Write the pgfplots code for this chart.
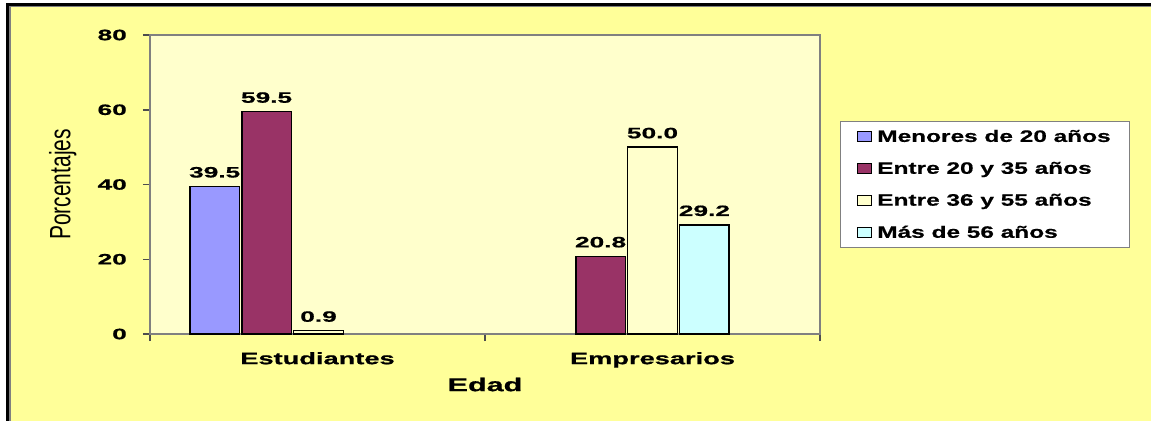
\documentclass[border=0pt]{standalone}
\usepackage{graphicx}
\usepackage{pgfplots}
\pgfplotsset{compat=1.18}
\usepackage{fontspec}
\setmainfont{Liberation Sans}
\newfontfamily\numf[FakeStretch=1.75,BoldFeatures={FakeBold=0.8}]{Liberation Sans}
\newfontfamily\txf[FakeStretch=1.65,BoldFeatures={FakeBold=0.8}]{Liberation Sans}
\newfontfamily\lgf[FakeStretch=1.48,BoldFeatures={FakeBold=0.6}]{Liberation Sans}
\definecolor{bgy}{HTML}{FFFF99}
\definecolor{ply}{HTML}{FFFFCC}
\definecolor{sblue}{HTML}{9999FF}
\definecolor{smaroon}{HTML}{993366}
\definecolor{syel}{HTML}{FFFFCC}
\definecolor{scyan}{HTML}{CCFFFF}
\definecolor{axg}{HTML}{808080}
\begin{document}
\begin{tikzpicture}[x=1pt,y=1pt]
\path[use as bounding box] (0,0) rectangle (1151,421);
\fill[white] (0,0) rectangle (1151,421);
\fill[bgy] (6,0) rectangle (1151,418);
\fill[black] (6,0) rectangle (9,418);
\fill[black] (6,415) rectangle (1151,418);
\fill[axg] (9,0) rectangle (11,415);
\fill[axg] (9,414) rectangle (1151,415);
\begin{axis}[
  at={(150pt,87pt)}, anchor=south west,
  scale only axis, width=670pt, height=299pt,
  xmin=0, xmax=2, ymin=0, ymax=80,
  axis background/.style={fill=ply},
  axis line style={draw=axg, line width=2pt},
  tick align=outside, tick pos=left,
  major tick length=7pt,
  every tick/.style={draw=axg!60!black, line width=1.5pt},
  ytick={0,20,40,60,80},
  xtick={0,1,2}, xticklabels={},
  extra x ticks={0.5,1.5},
  extra x tick labels={Estudiantes,Empresarios},
  extra x tick style={major tick length=0pt},
  /pgf/number format/assume math mode=true,
  yticklabel style={font=\numf\bfseries\fontsize{15}{15}\selectfont, inner sep=0pt, anchor=east, xshift=-16pt},
  xticklabel style={font=\txf\bfseries\fontsize{16.5}{16.5}\selectfont, inner sep=0pt, anchor=north, yshift=-18pt},
  xlabel={\txf\bfseries\fontsize{18.5}{18.5}\selectfont Edad},
  ylabel={\scalebox{1}[1.4]{\fontsize{21}{21}\selectfont Porcentajes}},
  every axis x label/.style={at={(axis description cs:0.5,-0.169)}, anchor=center},
  every axis y label/.style={at={(axis description cs:-0.13,0.5)}, rotate=90, anchor=center},
  every axis plot/.append style={ybar, bar width=0.148, bar shift=0pt, draw=black, line width=1.5pt},
  nodes near coords={\pgfmathprintnumber[fixed,fixed zerofill,precision=1]{\pgfplotspointmeta}},
  every node near coord/.append style={font=\numf\bfseries\fontsize{15}{15}\selectfont, inner sep=0pt, anchor=south, yshift=8pt, text=black},
  legend style={at={(1.0295,0.711)}, anchor=north west, draw=axg, line width=1pt, fill=white,
    font=\lgf\bfseries\fontsize{16.5}{16.5}\selectfont, inner xsep=17pt, inner ysep=6pt,
    row sep=14.5pt, nodes={inner sep=2pt},
    /tikz/every odd column/.append style={column sep=3pt}},
  legend cell align=left,
  legend image code/.code={\draw[#1, line width=1pt] (0pt,-5pt) rectangle (14pt,5pt);},
]
\addplot[fill=sblue] coordinates {(0.193,39.5)};
\addplot[fill=smaroon] coordinates {(0.348,59.5) (1.345,20.8)};
\addplot[fill=syel] coordinates {(0.503,0.9) (1.5,50.0)};
\addplot[fill=scyan] coordinates {(1.655,29.2)};
\legend{Menores de 20 años, Entre 20 y 35 años, Entre 36 y 55 años, Más de 56 años}
\end{axis}
\end{tikzpicture}
\end{document}
